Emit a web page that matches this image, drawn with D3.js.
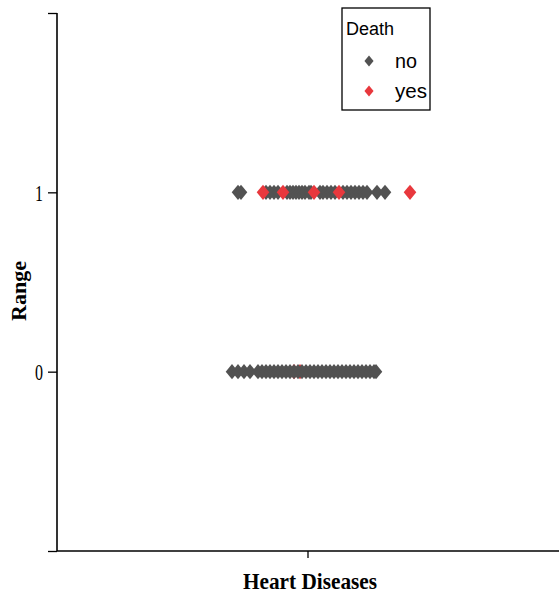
<!DOCTYPE html>
<html>
<head>
<meta charset="utf-8">
<script src="https://cdn.jsdelivr.net/npm/d3@7"></script>
<style>
  body { margin: 0; background: #fff; }
  svg { display: block; }
</style>
</head>
<body>
<div id="chart"></div>
<script>
// data
var categories = ["Heart Diseases"];
var yTicks = [-1, 0, 1, 2];
var groups = ["no", "yes"];
// jitter offsets (horizontal spread around the category) for each point
var range1No = [-70, -67, -42, -38, -34, -30, -21, -18, -15, -12, -9, -6, -3, 1, 3,
  12, 15, 19, 23, 27, 35, 39, 43, 47, 51, 55, 59, 69, 77];
var range1Yes = [-45, -25, 6, 31, 102];
var range0No = [-76, -70, -64, -58, -50, -46, -42, -38, -34, -30, -26, -22, -18,
  -14, -10, -6, -2, 2, 6, 10, 14, 18, 22, 26, 30, 34, 38, 42, 46, 50, 54, 58, 62, 66, 68];
var range0Yes = [-14, -8];

var colors = {no: "#525252", yes: "#e8383d"};

var width = 559, height = 594;
var svg = d3.select("#chart").append("svg").attr("width", width).attr("height", height);

var x = d3.scaleBand().domain(categories).range([57, 559]);
var y = d3.scaleLinear().domain([-1, 2]).range([551, 13]);
var jitter = d3.scaleLinear().domain([-251, 251]).range([-251, 251]);

// a diamond that is a bit wider than d3's own
var wideDiamond = {
  draw: function(ctx, size) {
    var h = Math.sqrt(size) * 0.93, w = h * 0.82;
    ctx.moveTo(0, -h);
    ctx.lineTo(w, 0);
    ctx.lineTo(0, h);
    ctx.lineTo(-w, 0);
    ctx.closePath();
  }
};
var sym = d3.symbol().type(wideDiamond).size(68);
var legendSym = d3.symbol().type(wideDiamond).size(36);

var points = [];
range0Yes.forEach(function(d) { points.push({v: 0, j: d, g: "yes"}); });
range0No.forEach(function(d) { points.push({v: 0, j: d, g: "no"}); });
range1No.forEach(function(d) { points.push({v: 1, j: d, g: "no"}); });
range1Yes.forEach(function(d) { points.push({v: 1, j: d, g: "yes"}); });

var cx = x(categories[0]) + x.bandwidth() / 2;

svg.append("g").selectAll("path").data(points).enter().append("path")
  .attr("d", sym)
  .attr("transform", function(d) { return "translate(" + (cx + jitter(d.j)) + "," + y(d.v) + ")"; })
  .attr("fill", function(d) { return colors[d.g]; });

// axes
var yAxis = svg.append("g").attr("transform", "translate(57,0)")
  .call(d3.axisLeft(y).tickValues(yTicks).tickSize(9).tickPadding(5)
    .tickFormat(function(d) { return (d == 0 || d == 1) ? d : ""; }));
var xAxis = svg.append("g").attr("transform", "translate(0,551)")
  .call(d3.axisBottom(x).tickSize(7).tickFormat(""));

svg.selectAll(".domain").attr("stroke", "#000").attr("stroke-width", 1.6);
svg.selectAll(".tick line").attr("stroke", "#000").attr("stroke-width", 1.3);
yAxis.selectAll(".tick text")
  .filter(function(d) { return d == 0 || d == 1; })
  .attr("font-family", "Liberation Serif, serif")
  .attr("font-size", 24)
  .attr("fill", "#000")
  .attr("textLength", 8).attr("lengthAdjust", "spacingAndGlyphs");
yAxis.select(".domain").attr("d", "M0," + y(2) + "V" + y(-1));
xAxis.select(".domain").attr("d", "M57,0H559");

// axis titles
svg.append("text")
  .attr("x", cx + 2).attr("y", 589)
  .attr("text-anchor", "middle")
  .attr("font-family", "Liberation Serif, serif")
  .attr("font-weight", "bold")
  .attr("font-size", 24)
  .attr("textLength", 134).attr("lengthAdjust", "spacingAndGlyphs")
  .text("Heart Diseases");

svg.append("text")
  .attr("transform", "translate(26," + y(0.45) + ") rotate(-90)")
  .attr("text-anchor", "middle")
  .attr("font-family", "Liberation Serif, serif")
  .attr("font-weight", "bold")
  .attr("font-size", 20)
  .attr("textLength", 60).attr("lengthAdjust", "spacingAndGlyphs")
  .text("Range");

// legend
var legend = svg.append("g");
legend.append("rect")
  .attr("x", 342).attr("y", 8).attr("width", 88).attr("height", 102)
  .attr("fill", "#fff").attr("stroke", "#000").attr("stroke-width", 1.3);
legend.append("text")
  .attr("x", 346).attr("y", 35)
  .attr("font-family", "Liberation Sans, Arial, sans-serif")
  .attr("font-size", 18)
  .text("Death");
var item = legend.selectAll(".item").data(groups).enter().append("g")
  .attr("class", "item")
  .attr("transform", function(d, i) { return "translate(0," + (61 + i * 30) + ")"; });
item.append("path")
  .attr("d", legendSym)
  .attr("transform", "translate(369,0)")
  .attr("fill", function(d) { return colors[d]; });
item.append("text")
  .attr("x", 395).attr("y", 7)
  .attr("font-family", "Liberation Sans, Arial, sans-serif")
  .attr("font-size", 20)
  .attr("textLength", function(d) { return d == "no" ? 22 : 32; })
  .attr("lengthAdjust", "spacingAndGlyphs")
  .text(function(d) { return d; });
</script>
</body>
</html>
